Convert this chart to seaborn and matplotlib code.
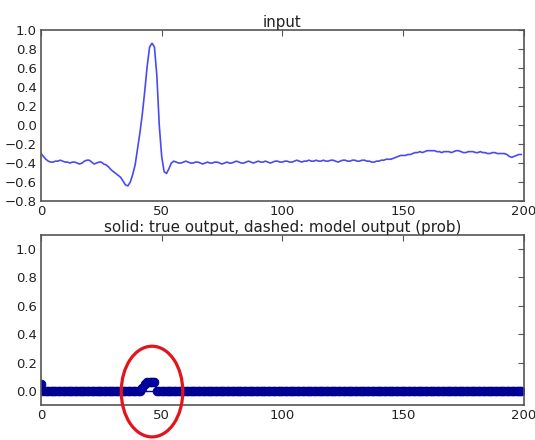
import numpy as np
import pandas as pd
import matplotlib
matplotlib.use("Agg")
import matplotlib.pyplot as plt
from matplotlib.patches import Ellipse
import seaborn as sns

# ---- data ----
input_values = [
    -0.30, -0.33, -0.36, -0.38, -0.39, -0.39, -0.38, -0.38, -0.37, -0.38,   # 0-9
    -0.39, -0.39, -0.40, -0.39, -0.39, -0.40, -0.41, -0.40, -0.38, -0.37,   # 10-19
    -0.37, -0.39, -0.41, -0.40, -0.39, -0.39, -0.41, -0.42, -0.44, -0.47,   # 20-29
    -0.49, -0.51, -0.53, -0.55, -0.59, -0.63, -0.64, -0.60, -0.52, -0.42,   # 30-39
    -0.25, -0.08, 0.12, 0.36, 0.62, 0.82, 0.86, 0.82, 0.52, 0.00,           # 40-49
    -0.33, -0.49, -0.51, -0.46, -0.40, -0.38, -0.39, -0.40, -0.40, -0.39,   # 50-59
    -0.38, -0.39, -0.40, -0.40, -0.39, -0.39, -0.40, -0.41, -0.40, -0.39,   # 60-69
    -0.40, -0.40, -0.39, -0.39, -0.40, -0.41, -0.40, -0.39, -0.40, -0.40,   # 70-79
    -0.39, -0.38, -0.39, -0.40, -0.40, -0.39, -0.38, -0.39, -0.40, -0.39,   # 80-89
    -0.38, -0.39, -0.39, -0.38, -0.39, -0.40, -0.39, -0.38, -0.38, -0.39,   # 90-99
    -0.39, -0.38, -0.38, -0.39, -0.39, -0.38, -0.37, -0.38, -0.39, -0.38,   # 100-109
    -0.38, -0.37, -0.38, -0.38, -0.37, -0.38, -0.38, -0.37, -0.38, -0.38,   # 110-119
    -0.37, -0.37, -0.38, -0.39, -0.38, -0.37, -0.37, -0.38, -0.38, -0.37,   # 120-129
    -0.37, -0.38, -0.38, -0.37, -0.37, -0.38, -0.38, -0.39, -0.39, -0.38,   # 130-139
    -0.38, -0.37, -0.37, -0.36, -0.36, -0.36, -0.35, -0.34, -0.33, -0.32,   # 140-149
    -0.32, -0.32, -0.31, -0.31, -0.30, -0.29, -0.29, -0.28, -0.29, -0.28,   # 150-159
    -0.27, -0.27, -0.27, -0.27, -0.28, -0.28, -0.29, -0.28, -0.28, -0.28,   # 160-169
    -0.29, -0.28, -0.27, -0.27, -0.28, -0.29, -0.29, -0.28, -0.28, -0.28,   # 170-179
    -0.29, -0.29, -0.28, -0.29, -0.29, -0.30, -0.30, -0.29, -0.29, -0.30,   # 180-189
    -0.30, -0.30, -0.30, -0.31, -0.33, -0.34, -0.33, -0.32, -0.31, -0.31,   # 190-199
]

true_output = [0.0] * 200

model_output = (
    [0.05] + [0.0] * 41 +            # 0-41
    [0.02, 0.05, 0.06, 0.06, 0.06, 0.06] +  # 42-47
    [0.0] * 152                      # 48-199
)

x_index = list(range(200))

top_title = "input"
bottom_title = "solid: true output, dashed: model output (prob)"
x_ticks = [0, 50, 100, 150, 200]
top_y_ticks = [-0.8, -0.6, -0.4, -0.2, 0.0, 0.2, 0.4, 0.6, 0.8, 1.0]
bottom_y_ticks = [0.0, 0.2, 0.4, 0.6, 0.8, 1.0]

# ---- build frames ----
df_in = pd.DataFrame({"x": x_index, "y": input_values})
df_true = pd.DataFrame({"x": x_index, "y": true_output})
df_pred = pd.DataFrame({"x": x_index, "y": model_output})

sns.set_style("white")
plt.rcParams["font.family"] = ["DejaVu Sans"]

fig = plt.figure(figsize=(5.35, 4.4), dpi=100)
ax1 = fig.add_axes([0.0766, 0.543, 0.9024, 0.389])
ax2 = fig.add_axes([0.0766, 0.0795, 0.9024, 0.3865])

spine_col = "#555555"
text_col = "#222222"

sns.lineplot(data=df_in, x="x", y="y", ax=ax1, color="#4a4af0", linewidth=1.2)

sns.lineplot(data=df_true, x="x", y="y", ax=ax2, color="#0000dd", linewidth=1.0)
sns.lineplot(data=df_pred, x="x", y="y", ax=ax2, color="#0000cc", linewidth=1.0,
             linestyle="--", marker="o", markersize=6.3,
             markerfacecolor="#0000b0", markeredgecolor="#000070",
             markeredgewidth=0.6)

for ax, yt, title in ((ax1, top_y_ticks, top_title), (ax2, bottom_y_ticks, bottom_title)):
    ax.set_xlim(0, 200)
    ax.set_xticks(x_ticks)
    ax.set_yticks(yt)
    ax.set_yticklabels([f"{v:.1f}".replace("-", "\u2212") for v in yt])
    ax.set_xlabel("")
    ax.set_ylabel("")
    ax.set_title(title, fontsize=10.9, color=text_col, pad=2)
    ax.tick_params(direction="in", length=4, width=0.8, colors=spine_col,
                   labelcolor=text_col, labelsize=9.5, top=True, right=True,
                   pad=3)
    for s in ax.spines.values():
        s.set_color(spine_col)
        s.set_linewidth(1.2)
        s.set_visible(True)

ax1.set_ylim(-0.8, 1.0)
ax2.set_ylim(-0.1, 1.1)

ell = Ellipse((46, -0.005), width=25.5, height=0.64, fill=False,
              edgecolor="#e3141b", linewidth=2.3, clip_on=False, zorder=10)
ax2.add_patch(ell)

fig.savefig("out.png", dpi=100, facecolor="white")
